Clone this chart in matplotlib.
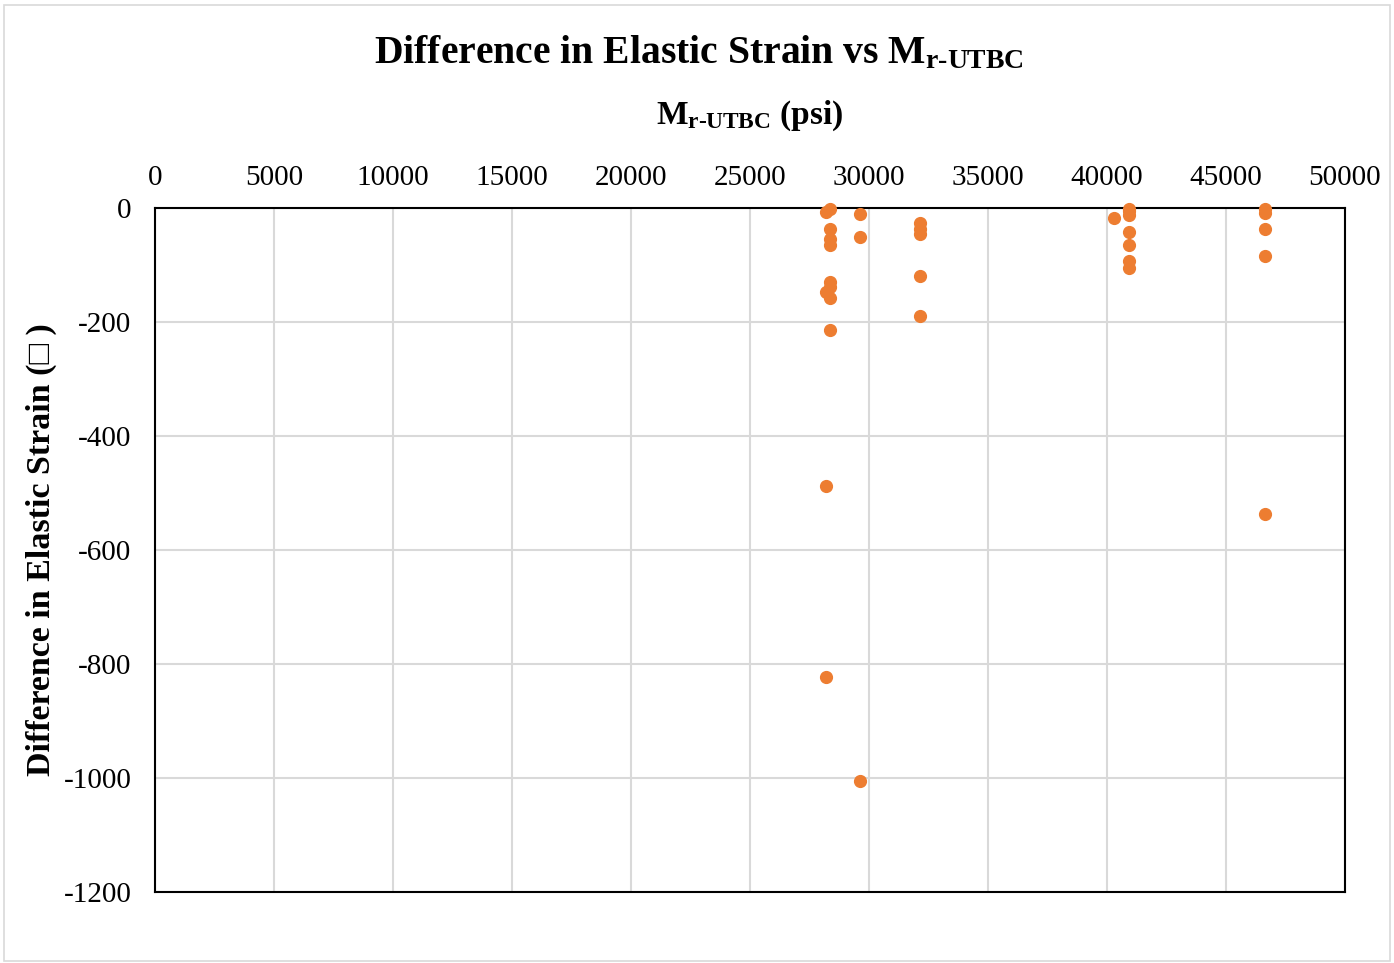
import matplotlib
matplotlib.use("Agg")
import matplotlib.pyplot as plt
from matplotlib.ticker import FuncFormatter
from matplotlib.patches import Rectangle

# Resilient modulus of the UTBC layer (psi) and elastic strain difference
mr_utbc = [28360, 28200, 28360, 28360, 28360, 28360, 28360, 28200, 28360,
           28360, 28200, 28200,
           29620, 29620, 29620,
           32140, 32140, 32140, 32140, 32140,
           40300, 40920, 40920, 40920, 40920, 40920, 40920, 40920,
           46640, 46640, 46640, 46640, 46640]
strain_diff = [-1, -7, -36, -54, -65, -130, -138, -147, -158,
               -214, -487, -823,
               -11, -51, -1006,
               -27, -36, -46, -119, -189,
               -17, -1, -5, -12, -42, -65, -93, -105,
               -1, -9, -37, -84, -536]

x_ticks = list(range(0, 50001, 5000))
y_ticks = list(range(-1200, 1, 200))

plt.rcParams['font.family'] = ['Liberation Serif', 'DejaVu Serif']
plt.rcParams['mathtext.fontset'] = 'custom'
plt.rcParams['mathtext.rm'] = 'Liberation Serif:bold'
plt.rcParams['mathtext.bf'] = 'Liberation Serif:bold'
plt.rcParams['mathtext.it'] = 'Liberation Serif:bold'

fig = plt.figure(figsize=(13.94, 9.63), dpi=100)
ax = fig.add_axes([0.1112, 0.0737, 0.8536, 0.7103])

ax.scatter(mr_utbc, strain_diff, s=72, color='#ED7D31', zorder=3, clip_on=False)

ax.set_xlim(0, 50000)
ax.set_ylim(-1200, 0)
ax.set_xticks(x_ticks)
ax.set_yticks(y_ticks)
ax.xaxis.tick_top()
ax.xaxis.set_label_position('top')
ax.yaxis.set_major_formatter(FuncFormatter(lambda v, p: f"{int(v)}".replace('\u2212', '-')))
ax.tick_params(axis='both', length=0, labelsize=21)
ax.tick_params(axis='x', pad=12)
ax.tick_params(axis='y', pad=17)
ax.grid(True, color='#D9D9D9', linewidth=1.5, zorder=0)
ax.set_axisbelow(True)
for sp in ax.spines.values():
    sp.set_color('black')
    sp.set_linewidth(1.5)

ax.set_xlabel(r'M$_{\text{r-UTBC}}$ (psi)', fontsize=24, fontweight='bold', labelpad=30)
ax.set_ylabel('Difference in Elastic Strain (\u25a1 )', fontsize=24.5, fontweight='bold', labelpad=5)

fig.text(0.5015, 0.945, r'Difference in Elastic Strain vs M$_{\text{r-UTBC}}$',
         ha='center', va='center', fontsize=28.5, fontweight='bold')

fig.patches.append(Rectangle((0.003, 0.002), 0.994, 0.993, transform=fig.transFigure,
                             fill=False, edgecolor='#D9D9D9', linewidth=1.2))

fig.savefig('out.png', dpi=100, facecolor='white')
